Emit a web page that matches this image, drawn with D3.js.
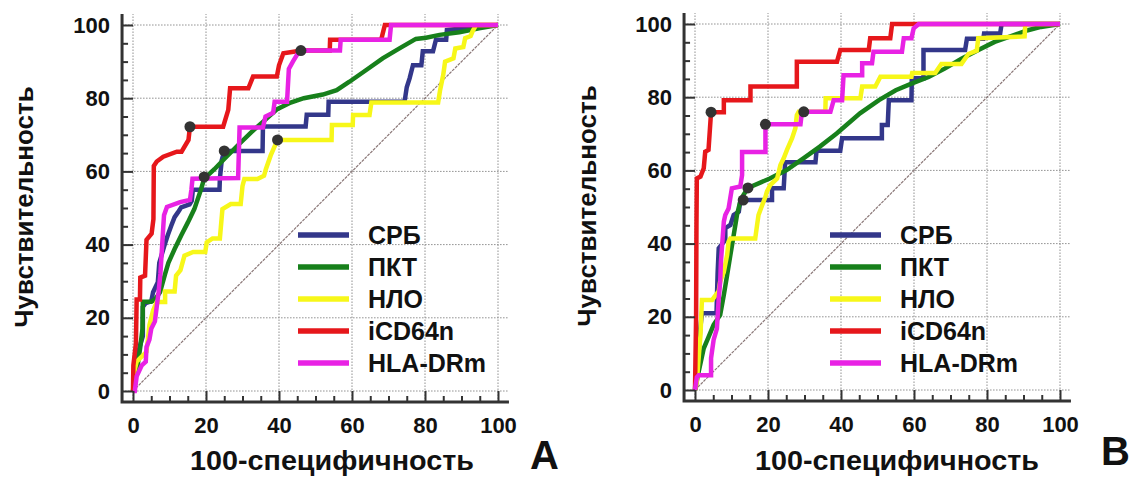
<!DOCTYPE html>
<html>
<head>
<meta charset="utf-8">
<script src="https://cdn.jsdelivr.net/npm/d3@7"></script>
<style>
    body { margin: 0; background: #fff; }
    svg { display: block; }
</style>
</head>
<body>
<svg></svg>
<script>
const SERIES = ['СРБ', 'ПКТ', 'НЛО', 'iCD64n', 'HLA-DRm'];
const TICKS = [0, 20, 40, 60, 80, 100];
const MINOR_TICKS = [5, 10, 15, 25, 30, 35, 45, 50, 55, 65, 70, 75, 85, 90, 95];

// panel A: [100-specificity, sensitivity]
const A_CRP = [[0,0],[0.5,4],[1,8],[1.8,12],[2.7,15],[2.7,23],[3.5,24],[5,24.5],[5.5,27],[6.8,29.7],[7.2,35],[8.6,39.7],[9.5,42.5],[10.5,45.2],[11.4,47.5],[12.3,48.8],[13.2,50.2],[15.5,51],[16.1,52],[16.4,55],[23.7,55],[23.8,58],[24.3,63],[25,65.6],[35.5,65.6],[35.6,72.3],[47.3,72.3],[47.6,75.5],[53.5,75.5],[53.6,79],[74.4,79],[75,83],[75.8,85.5],[76.7,89],[79,89],[79.4,92.8],[82.2,92.8],[83,96],[85.8,96],[86,98.6],[89.4,99],[100,100]];
const A_PCT = [[0,0],[1,5],[2,12],[2.6,17],[2.7,24.4],[5,24.4],[6,25],[7.4,27],[8.8,32],[9.7,35],[11.4,38.8],[13.2,42.5],[15,46],[16.8,49.7],[18.6,55],[19.5,58],[22.3,60.6],[25,63.4],[28.6,67],[32.3,70.6],[35.9,73.8],[39.5,77],[43.2,78.8],[46.8,80],[52,81],[55.8,82.2],[59.3,84.5],[63.9,87.7],[68.4,90.9],[73,93.6],[77.5,96.2],[80.3,96.5],[84,97.3],[89.4,98],[94.8,99.1],[100,100]];
const A_NLO = [[0,0],[0.3,5],[1,8],[3.7,10.7],[4.5,18],[5.5,22],[6.5,24.3],[8.8,24.3],[8.8,27.2],[11.4,27.2],[11.8,31.5],[13,33],[14.1,37],[16.5,38],[19.8,38],[20.2,40.6],[21.8,41.7],[23.8,41.7],[24.5,49.7],[26.8,51.1],[29.5,51.1],[30,56],[30.5,57.9],[34.1,57.9],[35.9,58.8],[36.4,60.6],[37.7,64.3],[39.1,67.5],[39.6,68.6],[54.4,68.6],[54.5,72.7],[60.2,72.7],[60.3,75.4],[64.8,75.4],[65.3,78.8],[83.6,78.8],[84.1,82],[85,86.4],[85.5,90],[87.8,90.9],[88.3,93.6],[90.5,94],[91,96.4],[92.5,97],[93,98.2],[94,100],[100,100]];
const A_CD64 = [[0,0],[0.1,7],[0.8,13],[1,25],[1.9,25],[2,31],[3.3,31.5],[3.7,41.3],[5.1,43],[5.6,47],[5.7,61.5],[6.5,62.7],[8.3,64],[12,65.4],[13.3,65.4],[15.2,68.6],[15.6,72.2],[24.7,72.2],[26.1,76.8],[26.6,82.7],[31.6,82.7],[32.9,85.9],[39.4,85.9],[40,89],[41.2,92.3],[44,92.7],[46,93],[53.9,93],[54,96],[68,96],[69,100],[100,100]];
const A_HLA = [[0,0],[0.5,0],[1,4],[2.4,7],[3.5,8],[3.7,12],[4.5,14],[5,17],[6,19],[6.5,23],[7,27],[7.5,32],[8,40],[8.3,45],[8.5,48],[9.3,50.3],[12.9,51.6],[15.6,52.2],[16,55],[16.3,58],[28.8,58.2],[29.2,72],[35.6,72],[36.3,75],[38.4,76],[38.8,79],[42.2,79],[42.7,88],[43.8,90],[45,92],[46,93],[56.7,93],[56.9,96],[70.3,96],[70.7,100],[100,100]];
const A_CUTOFFS = [[25,65.6],[19.5,58.5],[39.6,68.6],[15.6,72.2],[46,93]];

// panel B
const B_CRP = [[0,0],[0.3,5],[1,10],[1.4,16.4],[1.9,21],[5.9,21],[6,25],[6.2,32],[6.5,38.7],[8.3,41],[8.3,44.2],[9.7,45.1],[10.6,47.8],[12,48.7],[12.4,51.5],[13.2,51.9],[21.1,51.9],[21.1,55.1],[24.3,55.1],[24.7,62.2],[33,62.2],[33.3,65.4],[39.8,65.4],[40.3,68.8],[51.2,68.8],[51.2,72.4],[52.8,72.4],[53.1,79.2],[59.3,79.2],[59.4,85.2],[62.6,85.2],[62.6,92.9],[74,92.9],[74.5,96],[79,96],[79.2,97.4],[83.6,97.4],[84,100],[100,100]];
const B_PCT = [[0,0],[1,5],[2.4,11.4],[3.5,14],[5.1,17.8],[6.9,20.5],[7.9,26],[8.8,31.4],[9.7,36.9],[10.6,42.3],[11.5,47.8],[12.4,51.5],[13.3,53.3],[14.5,55.2],[20.5,57.8],[25.1,60.1],[29.7,63.3],[34.2,66.5],[38.8,70.1],[45.2,75.6],[50.4,79.2],[55,81.9],[59.3,83.7],[64,85.5],[68.4,87.8],[73,90.5],[77.5,92.8],[82.1,95.1],[86.6,96.7],[91.2,98.3],[94.8,99.2],[100,100]];
const B_NLO = [[0,0],[0.5,2.3],[1,8.7],[1.5,15],[1.9,24.6],[4.7,24.6],[6.5,27],[6.9,29.6],[7.9,32.3],[8.8,36.9],[9.2,40.5],[9.7,41.4],[16.5,41.4],[17,45],[17.4,47.8],[18.4,50.5],[19.3,52.8],[19.7,54.2],[20.6,56],[22.5,57.8],[23.4,61.5],[24.3,63.3],[25.2,65.6],[26.6,68.8],[27.5,71.5],[27.9,75.1],[28.4,76],[35.7,76],[35.8,79.7],[45.3,79.7],[45.8,82.9],[49.4,82.9],[50.8,85.6],[59.3,85.6],[59.5,86.6],[65.8,86.6],[67.5,89.1],[73,89.1],[74.9,91.8],[77.2,92.7],[77.6,96.1],[90.3,96.6],[90.5,100],[100,100]];
const B_CD64 = [[0,0],[0.3,20],[0.4,45],[0.5,57.8],[1.5,58.3],[2.4,60.6],[2.8,65.1],[3.7,65.6],[4.4,75.9],[7.9,75.9],[7.9,79.2],[15.2,79.2],[15.2,82.9],[27.9,82.9],[27.9,89.7],[38.9,89.7],[39.8,92.9],[47.6,92.9],[48,96.1],[53.5,96.1],[54,100],[100,100]];
const B_HLA = [[0,0],[0.5,3.5],[1,4],[4.4,4],[4.4,8.7],[5.1,13.7],[6,16.8],[6.5,25],[6.9,29.6],[7.1,35],[7.9,46],[8.3,47.8],[9.2,49.6],[10.1,55.1],[12.4,55.6],[12.9,58.7],[12.9,65],[19.3,65],[19.3,72.6],[28.9,72.6],[29.3,76],[37.1,76],[38,79.2],[40.3,79.2],[40.7,86],[45.8,86],[45.8,89.3],[48.5,89.3],[48.9,92.4],[56.7,92.4],[57.2,96.1],[59.3,96.1],[59.9,98.8],[61.3,100],[100,100]];
const B_CUTOFFS = [[13.2,51.9],[14.5,55.2],[29.8,76],[4.4,75.9],[19.3,72.6]];

const COLORS = ['#33378a', '#17801b', '#f7f719', '#e6171b', '#e822e4'];
const FONT = '"Liberation Sans", Arial, sans-serif';
const WIDTH = 1138;
const HEIGHT = 477;

const PANELS = [
    { left: 133, right: 498, bottom: 391, top: 25, legendX: 298, yTitleX: 33, xTitleX: 332,
      tag: 'A', tagX: 530, tagY: 469, series: [A_CRP, A_PCT, A_NLO, A_CD64, A_HLA], cutoffs: A_CUTOFFS },
    { left: 695, right: 1060, bottom: 390, top: 24, legendX: 830, yTitleX: 596, xTitleX: 897,
      tag: 'B', tagX: 1101, tagY: 465, series: [B_CRP, B_PCT, B_NLO, B_CD64, B_HLA], cutoffs: B_CUTOFFS },
];

const svg = d3.select('svg')
    .attr('width', WIDTH)
    .attr('height', HEIGHT)
    .style('font-family', FONT)
    .style('font-weight', 'bold');

function drawPanel(p) {
    const x = d3.scaleLinear().domain([0, 100]).range([p.left, p.right]);
    const y = d3.scaleLinear().domain([0, 100]).range([p.bottom, p.top]);
    const g = svg.append('g');

    // dotted grid
    g.append('g').selectAll('line')
        .data(TICKS)
        .enter()
        .append('line')
        .attr('x1', d => x(d)).attr('x2', d => x(d))
        .attr('y1', y(-3)).attr('y2', y(103))
        .attr('stroke', '#8f8f8f')
        .attr('stroke-dasharray', '1.5,1.5');
    g.append('g').selectAll('line')
        .data(TICKS)
        .enter()
        .append('line')
        .attr('x1', x(-3)).attr('x2', x(103))
        .attr('y1', d => y(d)).attr('y2', d => y(d))
        .attr('stroke', '#8f8f8f')
        .attr('stroke-dasharray', '1.5,1.5');

    // reference diagonal
    g.append('line')
        .attr('x1', x(0)).attr('y1', y(0))
        .attr('x2', x(100)).attr('y2', y(100))
        .attr('stroke', '#8a7777')
        .attr('stroke-width', 1.2)
        .attr('stroke-dasharray', '3,1');

    // legend
    const legend = g.selectAll('.legend')
        .data(SERIES)
        .enter()
        .append('g')
        .attr('transform', (d, i) => `translate(${p.legendX}, ${235 + i * 32})`);
    legend.append('line')
        .attr('x1', 0).attr('x2', 51)
        .attr('stroke', (d, i) => COLORS[i])
        .attr('stroke-width', 5.5);
    legend.append('text')
        .text(d => d)
        .attr('x', 70)
        .attr('dy', '0.36em')
        .attr('font-size', 25)
        .attr('fill', '#111');

    // ROC curves
    const line = d3.line()
        .x(d => x(d[0]))
        .y(d => y(d[1]));
    g.selectAll('.roc')
        .data(p.series)
        .enter()
        .append('path')
        .attr('d', line)
        .attr('fill', 'none')
        .attr('stroke', (d, i) => COLORS[i])
        .attr('stroke-width', 4.5)
        .attr('stroke-linejoin', 'miter');

    // optimal cut-off points
    g.selectAll('.cut')
        .data(p.cutoffs)
        .enter()
        .append('circle')
        .attr('cx', d => x(d[0]))
        .attr('cy', d => y(d[1]))
        .attr('r', 5.5)
        .attr('fill', '#333');

    // axes
    const yAxis = g.append('g')
        .attr('transform', `translate(${x(-3)}, 0)`)
        .call(d3.axisLeft(y).tickValues(TICKS).tickSize(-11).tickPadding(12));
    g.append('g')
        .attr('transform', `translate(${x(-3)}, 0)`)
        .call(d3.axisLeft(y).tickValues(MINOR_TICKS).tickSize(-6).tickFormat(() => ''));
    const xAxis = g.append('g')
        .attr('transform', `translate(0, ${y(-3)})`)
        .call(d3.axisBottom(x).tickValues(TICKS).tickSize(-11).tickPadding(15));
    g.append('g')
        .attr('transform', `translate(0, ${y(-3)})`)
        .call(d3.axisBottom(x).tickValues(MINOR_TICKS).tickSize(-6).tickFormat(() => ''));

    g.selectAll('.domain').remove();
    g.selectAll('.tick line')
        .attr('stroke', '#333')
        .attr('stroke-width', 2);
    [yAxis, xAxis].forEach(axis => axis
        .attr('font-size', 22)
        .attr('font-family', FONT)
        .attr('font-weight', 'bold')
        .attr('color', '#111'));

    g.append('path')
        .attr('d', `M${x(-3)},${y(103)}V${y(-3)}H${x(103)}`)
        .attr('fill', 'none')
        .attr('stroke', '#333')
        .attr('stroke-width', 3);

    // titles
    g.append('text')
        .text('Чувствительность')
        .attr('transform', `translate(${p.yTitleX}, ${(y(0) + y(100)) / 2 - 1}) rotate(-90)`)
        .attr('text-anchor', 'middle')
        .attr('font-size', 26)
        .attr('fill', '#111');
    g.append('text')
        .text('100-специфичность')
        .attr('x', p.xTitleX)
        .attr('y', 470)
        .attr('text-anchor', 'middle')
        .attr('font-size', 27)
        .attr('textLength', 284)
        .attr('lengthAdjust', 'spacingAndGlyphs')
        .attr('fill', '#111');
    g.append('text')
        .text(p.tag)
        .attr('x', p.tagX)
        .attr('y', p.tagY)
        .attr('font-size', 40)
        .attr('fill', '#111');
}

PANELS.forEach(drawPanel);
</script>
</body>
</html>
